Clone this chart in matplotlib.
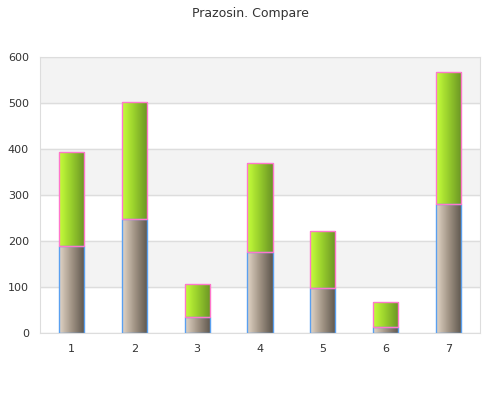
import numpy as np
import matplotlib.pyplot as plt
from matplotlib.colors import LinearSegmentedColormap

categories = ["1", "2", "3", "4", "5", "6", "7"]
bottom_vals = [190, 248, 35, 177, 98, 13, 281]
top_vals = [203, 254, 72, 193, 124, 55, 286]

fig = plt.figure(figsize=(5, 4), dpi=100)
ax = fig.add_axes([0.08, 0.1675, 0.88, 0.69])
ax.set_xlim(0.5, 7.5)
ax.set_ylim(0, 600)

for lo in (100, 300, 500):
    ax.axhspan(lo, lo + 100, color="#f3f3f3", zorder=0)
ax.yaxis.grid(True, color="#dddddd", lw=1, zorder=1)
ax.set_axisbelow(True)

brown = LinearSegmentedColormap.from_list("b", ["#e2d5c6", "#a09384", "#5e564d"])
green = LinearSegmentedColormap.from_list("g", ["#c6ff3a", "#96cc2c", "#6a9424"])
grad = np.linspace(0, 1, 64).reshape(1, -1)
w = 0.4

x = np.arange(1, len(categories) + 1)
for xi, b, t in zip(x, bottom_vals, top_vals):
    for y0, h, cmap, ec in ((0, b, brown, "#5aa0f0"), (b, t, green, "#ff77cc")):
        r = ax.bar(xi, h, w, bottom=y0, facecolor="none", edgecolor=ec, lw=1, zorder=3)[0]
        im = ax.imshow(grad, cmap=cmap, aspect="auto", zorder=2,
                       extent=[xi - w / 2, xi + w / 2, y0, y0 + h])
        im.set_clip_path(r)

ax.set_xticks(x)
ax.set_xticklabels(categories)
ax.set_yticks(range(0, 601, 100))
for s in ax.spines.values():
    s.set_color("#dddddd")
ax.tick_params(colors="#333333", labelsize=8, length=0, pad=8)
fig.text(0.5, 0.965, "Prazosin. Compare", ha="center", va="center", fontsize=9, color="#333333")
fig.savefig("out.png")
